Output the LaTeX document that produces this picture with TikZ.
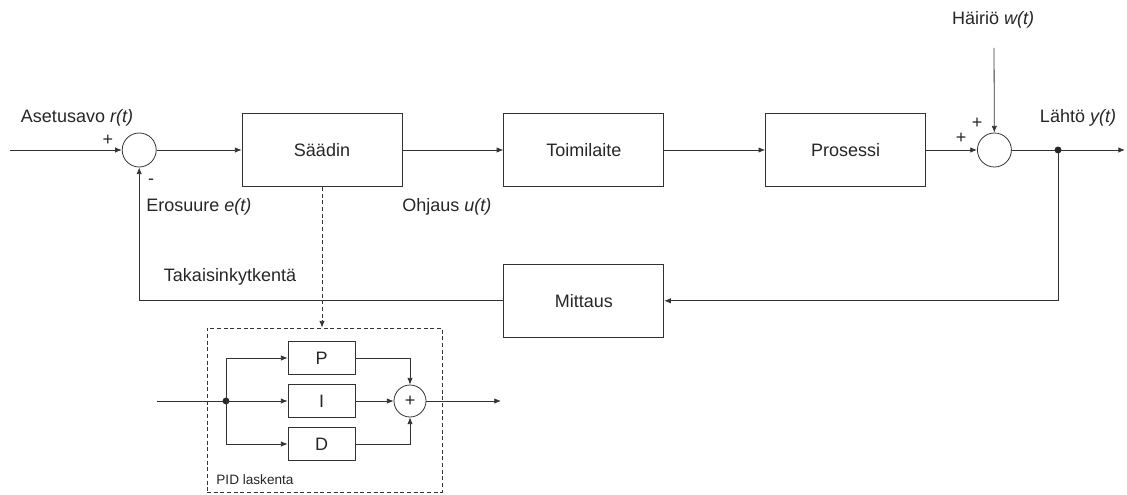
\documentclass[tikz,border=0pt]{standalone}
\usepackage{fontspec}
\setmainfont{Liberation Sans}
\usetikzlibrary{positioning, arrows.meta}

\begin{document}
\begin{tikzpicture}[
    x=0.75pt, y=-0.75pt,
    node distance = 57.75pt and 75.75pt,
    color=black!80, line width=0.6pt,
    teksti/.style = {font=\fontsize{13.5}{16}\selectfont, text=black!85, inner sep=0pt},
    blok/.style = {rectangle, draw, teksti, minimum width=120pt, minimum height=54.75pt},
    pidblok/.style = {rectangle, draw, teksti, minimum width=50.25pt, minimum height=24.75pt},
    summa/.style = {circle, draw, inner sep=0pt, minimum size=25.5pt},
    nuoli/.style = {-{Latex[length=5pt, width=4pt]}},
    katko/.style = {dashed, dash pattern=on 3pt off 2pt}
]
    \useasboundingbox (0,0) rectangle (1127,495);

    % paasilmukka
    \node[blok] (saadin) at (322,150) {Säädin};
    \node[blok, right=of saadin] (toimi) {Toimilaite};
    \node[blok, right=of toimi] (prosessi) {Prosessi};
    \node[blok, below=of toimi] (mittaus) {Mittaus};
    \node[summa, left=63.75pt of saadin] (sum1) {};
    \node[summa, right=38.25pt of prosessi] (sum2) {};

    \coordinate (tulo) at (10,150);
    \coordinate (haara) at (1058,150);
    \coordinate (lahto) at (1125,150);
    \coordinate (hairio) at (994,48);

    \draw[nuoli] (tulo) -- (sum1);
    \draw[nuoli] (sum1) -- (saadin);
    \draw[nuoli] (saadin) -- (toimi);
    \draw[nuoli] (toimi) -- (prosessi);
    \draw[nuoli] (prosessi) -- (sum2);
    \draw[nuoli] (hairio) -- (sum2);
    \draw[nuoli] (sum2) -- (lahto);
    \draw[nuoli] (haara) |- (mittaus);
    \draw[nuoli] (mittaus) -| (sum1);
    \fill[black!85] (haara) circle (2.6pt);

    % tekstit
    \node[teksti] at (77,118) {Asetusavo \textit{r(t)}};
    \node[teksti] at (108,140) {+};
    \node[teksti] at (151,182) {-};
    \node[teksti, anchor=west] at (146,207) {Erosuure \textit{e(t)}};
    \node[teksti, anchor=west] at (402,207) {Ohjaus \textit{u(t)}};
    \node[teksti] at (230,277) {Takaisinkytkentä};
    \node[teksti] at (993,20) {Häiriö \textit{w(t)}};
    \node[teksti] at (1078,118) {Lähtö \textit{y(t)}};
    \node[teksti] at (961,138) {+};
    \node[teksti] at (977,123) {+};

    % PID laskenta
    \node[rectangle, draw, katko, minimum width=176.25pt, minimum height=123pt] (pid) at (324.5,410) {};
    \node[pidblok] (P) at (321.5,358) {P};
    \node[pidblok] (I) at (321.5,401) {I};
    \node[pidblok] (D) at (321.5,444) {D};
    \node[summa, teksti, minimum size=24pt] (sum3) at (410,401) {+};
    \node[teksti, font=\fontsize{10.2}{12}\selectfont, anchor=west] at (216,480) {PID laskenta};

    \coordinate (pidtulo) at (157,401);
    \coordinate (pidhaara) at (226,401);
    \coordinate (pidlahto) at (501,401);

    \draw[nuoli, katko] (saadin.south) -- (saadin.south |- pid.north);
    \draw (pidtulo) -- (pidhaara);
    \fill[black!85] (pidhaara) circle (2.6pt);
    \draw[nuoli] (pidhaara) |- (P);
    \draw[nuoli] (pidhaara) -- (I);
    \draw[nuoli] (pidhaara) |- (D);
    \draw[nuoli] (P) -| (sum3);
    \draw[nuoli] (I) -- (sum3);
    \draw[nuoli] (D) -| (sum3);
    \draw[nuoli] (sum3) -- (pidlahto);
\end{tikzpicture}
\end{document}
